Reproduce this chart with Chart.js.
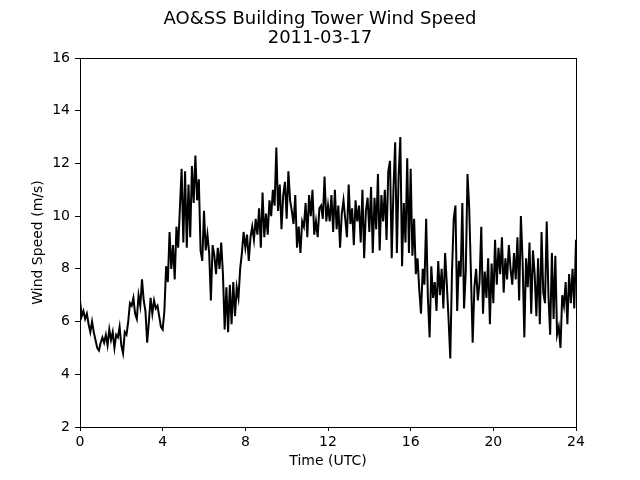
<!DOCTYPE html>
<html>
<head>
<meta charset="utf-8">
<script src="https://cdn.jsdelivr.net/npm/chart.js@4/dist/chart.umd.min.js"></script>
<style>
  html, body { margin: 0; padding: 0; background: #fff; }
  #wrap { width: 640px; height: 480px; }
</style>
</head>
<body>
<div id="wrap"><canvas id="c" width="640" height="480"></canvas></div>
<script>
// Wind speed (m/s), one value every 5 minutes from 00:00 to 24:00 UTC
const stepHours = 5 / 60;
const windSpeed = [
  6.8, 6.2, 6.4, 6.1, 6.3, 5.9, 5.6, 6.0, 5.6, 5.3, 5.0, 4.9,
  5.2, 5.4, 5.2, 5.5, 5.1, 5.7, 5.3, 5.6, 5.0, 5.5, 5.4, 5.8,
  5.1, 4.8, 5.6, 5.5, 6.0, 6.7, 6.6, 6.9, 6.3, 6.1, 7.0, 6.6,
  7.6, 6.8, 6.4, 5.2, 6.0, 6.9, 6.3, 6.8, 6.5, 6.6, 6.2, 5.8,
  5.7, 6.4, 8.1, 7.5, 9.4, 8.0, 8.9, 7.6, 9.6, 8.8, 10.3, 11.8,
  9.0, 11.7, 8.8, 11.2, 9.2, 11.9, 10.5, 12.3, 10.6, 11.4, 8.7, 8.3,
  10.2, 8.7, 9.3, 8.6, 6.8, 8.9, 8.5, 7.8, 8.8, 8.0, 9.0, 7.8,
  5.7, 7.3, 5.6, 7.4, 5.9, 7.5, 6.2, 7.3, 6.9, 8.0, 8.6, 9.4,
  8.8, 9.3, 8.3, 9.2, 9.6, 9.1, 9.9, 9.3, 10.3, 8.8, 10.9, 9.2,
  10.1, 9.3, 10.6, 10.0, 11.0, 10.4, 12.6, 10.2, 11.2, 9.5, 10.8, 11.3,
  9.9, 11.7, 10.6, 10.2, 9.7, 10.8, 8.8, 9.6, 8.6, 9.8, 9.6, 10.5,
  9.2, 10.8, 10.0, 11.0, 9.3, 9.8, 9.2, 10.3, 10.4, 9.9, 11.5, 9.8,
  10.4, 9.8, 10.8, 9.4, 11.0, 9.5, 10.4, 8.8, 10.1, 10.6, 9.9, 9.2,
  11.2, 9.7, 10.3, 8.9, 10.6, 9.8, 10.4, 9.0, 11.0, 8.4, 10.2, 10.7,
  9.4, 11.1, 8.6, 10.7, 9.5, 11.6, 8.7, 10.8, 9.8, 11.0, 9.1, 11.7,
  12.1, 8.4, 11.0, 12.8, 8.6, 11.5, 13.0, 8.1, 10.5, 9.0, 12.2, 8.6,
  11.8, 8.5, 9.9, 7.8, 8.4, 7.2, 6.3, 8.0, 7.4, 9.9, 6.9, 5.4,
  8.1, 6.9, 7.5, 6.4, 8.3, 7.0, 8.0, 6.5, 8.6, 7.4, 6.1, 4.6,
  7.9, 9.9, 10.4, 6.4, 8.3, 7.7, 10.5, 6.5, 7.9, 11.6, 10.3, 7.8,
  5.2, 7.3, 8.0, 6.8, 7.5, 9.6, 6.3, 7.9, 6.9, 8.4, 5.9, 8.2,
  6.7, 9.1, 7.4, 8.8, 7.8, 9.2, 7.1, 8.4, 7.6, 8.9, 8.0, 7.4,
  8.6, 7.6, 9.2, 6.8, 10.0, 8.3, 5.4, 8.4, 7.3, 9.0, 6.3, 8.7,
  7.8, 6.2, 8.4, 5.9, 9.4, 7.1, 6.7, 9.8, 7.0, 5.5, 8.6, 6.1,
  8.5, 5.5, 5.8, 5.0, 7.0, 6.6, 7.5, 5.9, 7.8, 6.7, 8.0, 6.5,
  9.1
];
const xTicks = [0, 4, 8, 12, 16, 20, 24];
const yTicks = [2, 4, 6, 8, 10, 12, 14, 16];
const titleLines = ['AO&SS Building Tower Wind Speed', '2011-03-17'];
const xLabel = 'Time (UTC)';
const yLabel = 'Wind Speed (m/s)';

const points = windSpeed.map((v, i) => ({ x: i * stepHours, y: v }));

const frame = {
  id: 'frame',
  afterDraw(chart) {
    const a = chart.chartArea, ctx = chart.ctx;
    ctx.save();
    ctx.strokeStyle = '#000';
    ctx.lineWidth = 1;
    ctx.strokeRect(Math.round(a.left) + 0.5, Math.round(a.top) + 0.5,
                   Math.round(a.right - a.left), Math.round(a.bottom - a.top));
    ctx.restore();
  }
};

const font = { family: 'DejaVu Sans', size: 14 };
new Chart(document.getElementById('c'), {
  type: 'scatter',
  data: { datasets: [{
    data: points, showLine: true, borderColor: '#000', borderWidth: 2,
    pointRadius: 0, tension: 0, fill: false
  }]},
  options: {
    responsive: false, animation: false, devicePixelRatio: 1,
    layout: { padding: 0 },
    plugins: {
      legend: { display: false }, tooltip: { enabled: false },
      title: { display: true, text: titleLines, color: '#000',
        font: { family: 'DejaVu Sans', size: 18, weight: 'normal', lineHeight: 1.1 },
        padding: { top: 9, bottom: 9.4 } }
    },
    scales: {
      x: { type: 'linear', min: 0, max: 24,
        afterFit(s) { s.height = 53; },
        afterBuildTicks(s) { s.ticks = xTicks.map(v => ({ value: v })); },
        grid: { drawOnChartArea: false, drawTicks: true, tickLength: 4, color: '#000' },
        border: { display: false },
        ticks: { color: '#000', font, padding: 3, maxRotation: 0 },
        title: { display: true, text: xLabel, color: '#000', font, padding: { top: 0, bottom: 10 } } },
      y: { min: 2, max: 16,
        afterFit(s) { s.width = 80; },
        afterBuildTicks(s) { s.ticks = yTicks.map(v => ({ value: v })); },
        grid: { drawOnChartArea: false, drawTicks: true, tickLength: 5, color: '#000' },
        border: { display: false },
        ticks: { color: '#000', font, padding: 5 },
        title: { display: true, text: yLabel, color: '#000', font, padding: { top: 30, bottom: 0 } } },
      yRight: { position: 'right', min: 2, max: 16,
        afterFit(s) { s.width = 64; },
        grid: { display: false }, border: { display: false },
        ticks: { display: false } }
    }
  },
  plugins: [frame]
});
</script>
</body>
</html>
